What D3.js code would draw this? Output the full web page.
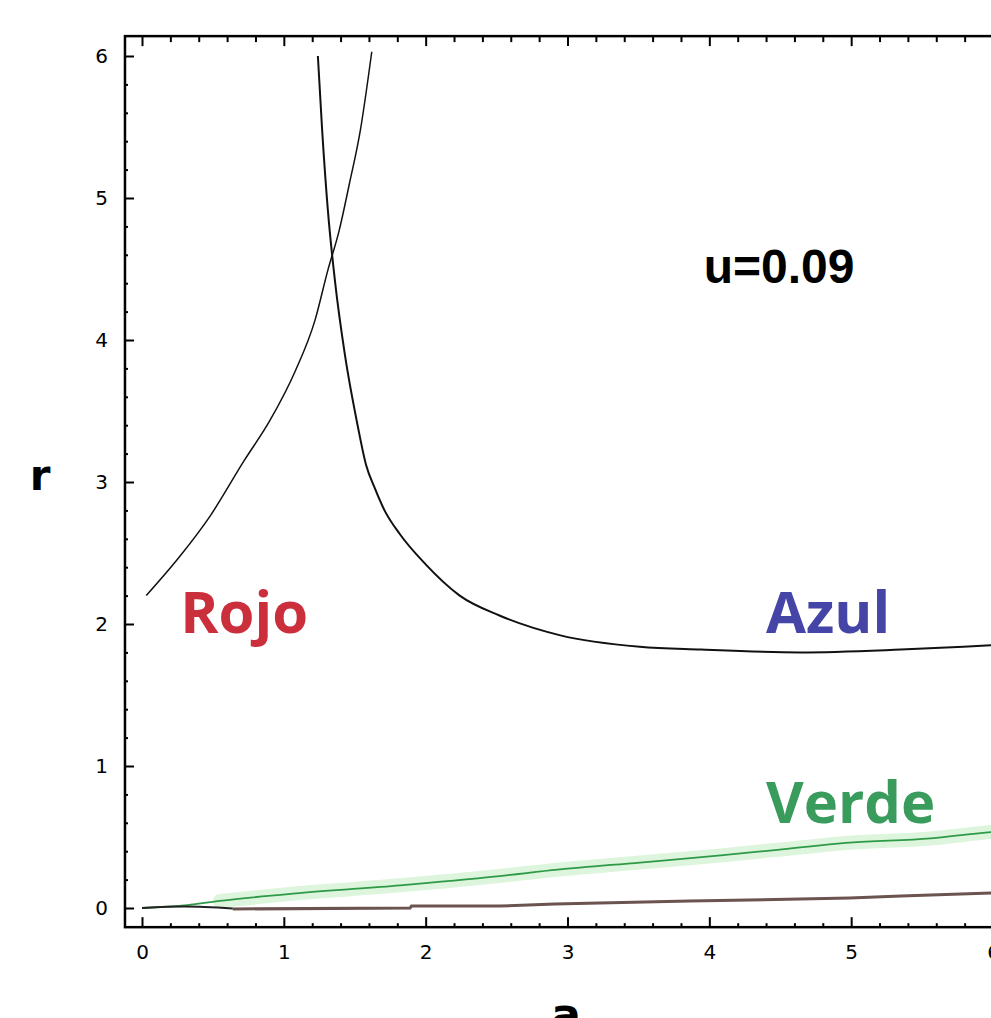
<!DOCTYPE html>
<html>
<head>
<meta charset="utf-8">
<script src="https://cdn.jsdelivr.net/npm/d3@7"></script>
<style>
  body { margin: 0; background: #fff; }
  svg { display: block; }
</style>
</head>
<body>
<svg id="chart" width="991" height="1018"></svg>
<script>
// values
const xTicks = [0, 1, 2, 3, 4, 5, 6];
const yTicks = [0, 1, 2, 3, 4, 5, 6];

const rojoA = [0.03, 0.27, 0.48, 0.72, 0.90, 1.08, 1.22, 1.31, 1.39, 1.46, 1.54, 1.62];
const rojoR = [2.20, 2.48, 2.76, 3.15, 3.43, 3.78, 4.14, 4.49, 4.77, 5.09, 5.48, 6.03];

const azulA = [1.24, 1.27, 1.31, 1.36, 1.43, 1.52, 1.58, 1.64, 1.71, 1.82, 2.00, 2.24, 2.52, 2.95, 3.51, 3.94, 4.64, 5.35, 5.99, 6.2];
const azulR = [6.00, 5.48, 4.92, 4.42, 3.90, 3.40, 3.12, 2.96, 2.80, 2.63, 2.42, 2.20, 2.06, 1.92, 1.84, 1.82, 1.80, 1.82, 1.85, 1.86];

const verdeA = [0, 0.32, 0.55, 1.11, 1.82, 2.52, 2.93, 3.51, 4.08, 4.48, 4.99, 5.56, 5.99, 6.2];
const verdeR = [0, 0.02, 0.05, 0.105, 0.16, 0.225, 0.27, 0.32, 0.37, 0.41, 0.46, 0.49, 0.535, 0.55];

const marronA = [0.64, 1.89, 1.90, 2.52, 2.91, 3.86, 4.64, 4.99, 5.35, 5.99, 6.2];
const marronR = [-0.007, 0, 0.014, 0.014, 0.028, 0.05, 0.063, 0.07, 0.085, 0.106, 0.11];

const negroA = [0, 0.3, 0.64];
const negroR = [0, 0.01, -0.004];

const labels = [
  {text: "Rojo", a: 0.27, r: 1.94, color: "#cc2f3c"},
  {text: "Azul", a: 4.4, r: 1.94, color: "#4545a8"},
  {text: "Verde", a: 4.4, r: 0.6, color: "#3a9c5c"}
];

const svg = d3.select('#chart');

const x = d3.scaleLinear().domain([0, 6]).range([142, 993]);
const y = d3.scaleLinear().domain([0, 6]).range([908, 56]);

const xLeft = x(-0.12), xRight = x(6.12), yTop = y(6.14), yBottom = y(-0.135);

const zip = (as, rs) => as.map((a, i) => [a, rs[i]]);

const line = d3.line()
    .x(d => x(d[0]))
    .y(d => y(d[1]))
    .curve(d3.curveMonotoneX);

svg.append('clipPath').attr('id', 'plot')
    .append('rect')
    .attr('x', xLeft).attr('y', yTop)
    .attr('width', xRight - xLeft).attr('height', yBottom - yTop);

const g = svg.append('g').attr('clip-path', 'url(#plot)');

// light green glow behind the green curve
g.append('path')
    .datum(zip(verdeA, verdeR).filter(d => d[0] >= 0.55))
    .attr('d', line)
    .attr('fill', 'none')
    .attr('stroke', '#dcf5dc')
    .attr('stroke-width', 14)
    .attr('stroke-linecap', 'round');

g.append('path')
    .datum(zip(verdeA, verdeR))
    .attr('d', line)
    .attr('fill', 'none')
    .attr('stroke', '#2e9a48')
    .attr('stroke-width', 1.8);

g.append('path')
    .datum(zip(marronA, marronR))
    .attr('d', d3.line().x(d => x(d[0])).y(d => y(d[1])))
    .attr('fill', 'none')
    .attr('stroke', '#6b5350')
    .attr('stroke-width', 3);

g.append('path')
    .datum(zip(negroA, negroR))
    .attr('d', line)
    .attr('fill', 'none')
    .attr('stroke', '#222')
    .attr('stroke-width', 2);

g.append('path')
    .datum(zip(rojoA, rojoR))
    .attr('d', line)
    .attr('fill', 'none')
    .attr('stroke', '#111')
    .attr('stroke-width', 1.5);

g.append('path')
    .datum(zip(azulA, azulR))
    .attr('d', line)
    .attr('fill', 'none')
    .attr('stroke', '#111')
    .attr('stroke-width', 2);

// frame
svg.append('rect')
    .attr('x', xLeft).attr('y', yTop)
    .attr('width', xRight - xLeft).attr('height', yBottom - yTop)
    .attr('fill', 'none')
    .attr('stroke', '#000')
    .attr('stroke-width', 2.5);

// ticks, all pointing inward
const minorX = d3.range(0, 6.2, 0.2).map(v => +v.toFixed(1)).filter(v => !xTicks.includes(v));
const minorY = d3.range(0, 6.2, 0.2).map(v => +v.toFixed(1)).filter(v => !yTicks.includes(v));

const bottomAxis = d3.axisBottom(x).tickValues(xTicks).tickSize(-10).tickPadding(18).tickFormat(d3.format('d'));
const topAxis = d3.axisTop(x).tickValues(xTicks).tickSize(-10).tickFormat('');
const leftAxis = d3.axisLeft(y).tickValues(yTicks).tickSize(-9).tickPadding(17).tickFormat(d3.format('d'));

function styleAxis(sel) {
  sel.select('.domain').remove();
  sel.selectAll('line').attr('stroke', '#000').attr('stroke-width', 2);
  sel.selectAll('text')
      .attr('fill', '#000')
      .style('font-family', 'DejaVu Sans, sans-serif')
      .style('font-size', '20px');
}

svg.append('g').attr('transform', `translate(0,${yBottom})`).call(bottomAxis).call(styleAxis);
svg.append('g').attr('transform', `translate(0,${yTop})`).call(topAxis).call(styleAxis);
svg.append('g').attr('transform', `translate(${xLeft},0)`).call(leftAxis).call(styleAxis);

svg.append('g').attr('transform', `translate(0,${yBottom})`)
    .call(d3.axisBottom(x).tickValues(minorX).tickSize(-4).tickFormat('')).call(styleAxis);
svg.append('g').attr('transform', `translate(0,${yTop})`)
    .call(d3.axisTop(x).tickValues(minorX).tickSize(-6).tickFormat('')).call(styleAxis);
svg.append('g').attr('transform', `translate(${xLeft},0)`)
    .call(d3.axisLeft(y).tickValues(minorY).tickSize(-3).tickFormat('')).call(styleAxis);

// axis titles
svg.append('text')
    .attr('x', 40).attr('y', 490)
    .attr('text-anchor', 'middle')
    .style('font-family', 'DejaVu Sans, sans-serif')
    .style('font-weight', 'bold')
    .style('font-size', '42px')
    .text('r');

svg.append('text')
    .attr('x', 566).attr('y', 1030)
    .attr('text-anchor', 'middle')
    .style('font-family', 'DejaVu Sans, sans-serif')
    .style('font-weight', 'bold')
    .style('font-size', '44px')
    .text('a');

// annotation
svg.append('text')
    .attr('x', x(3.96)).attr('y', y(4.4))
    .style('font-family', 'Liberation Sans, Arial, sans-serif')
    .style('font-weight', 'bold')
    .style('font-size', '48px')
    .attr('fill', '#000')
    .text('u=0.09');

svg.selectAll('.lbl')
    .data(labels)
    .enter()
    .append('text')
    .attr('class', 'lbl')
    .attr('x', d => x(d.a))
    .attr('y', d => y(d.r))
    .attr('fill', d => d.color)
    .style('font-family', 'Open Sans, sans-serif')
    .style('font-weight', 'bold')
    .style('font-size', '58px')
    .text(d => d.text);
</script>
</body>
</html>
